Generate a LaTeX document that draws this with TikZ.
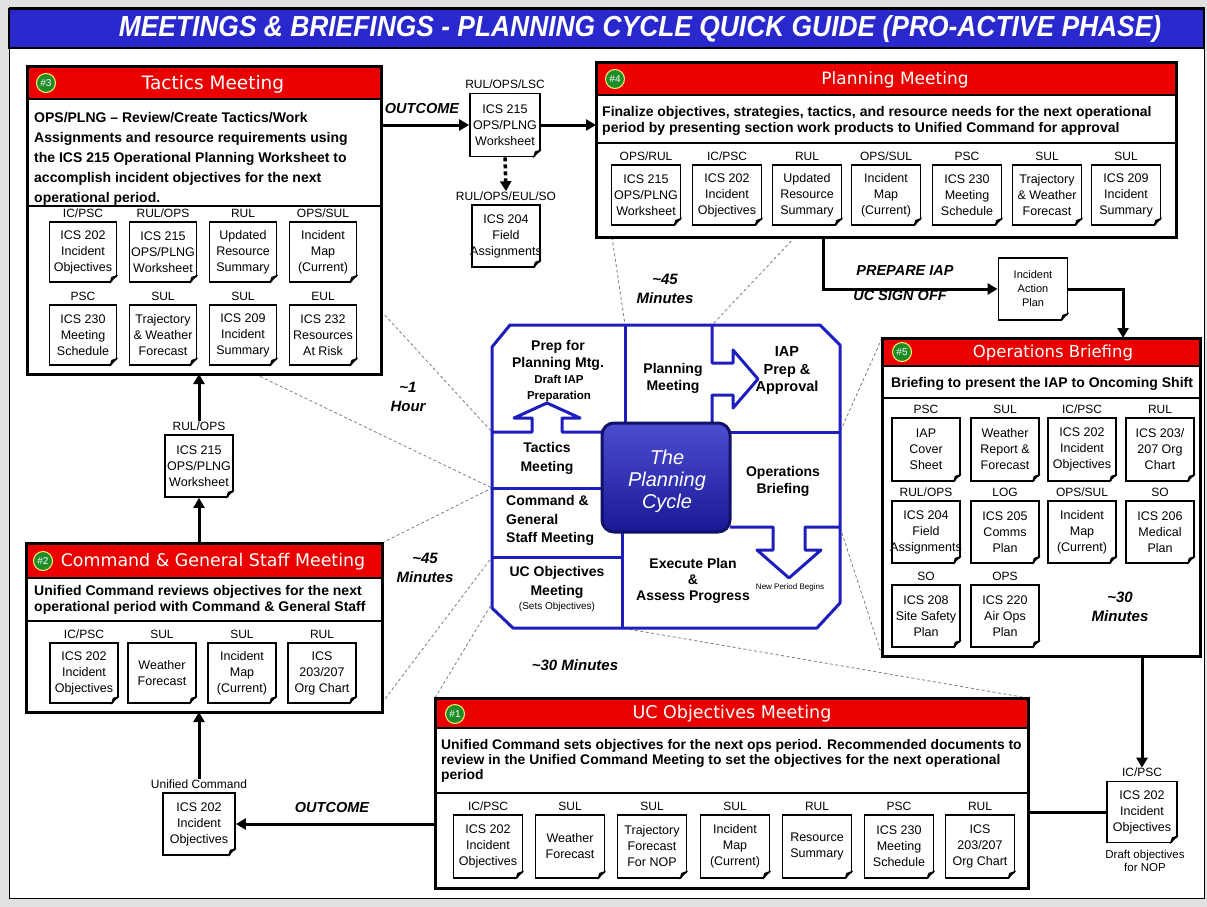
\documentclass[tikz,border=0pt]{standalone}
\usepackage{fontspec}
\usepackage{graphicx}
\setmainfont{Liberation Sans}
\newfontfamily\dvfont{DejaVu Sans}
\usetikzlibrary{arrows.meta}
\pgfdeclarelayer{back}
\pgfdeclarelayer{mid}
\pgfsetlayers{back,mid,main}
\definecolor{cyc}{RGB}{30,30,190}
\definecolor{hred}{RGB}{235,0,0}
\definecolor{tblue}{RGB}{40,40,205}
\definecolor{bgc}{RGB}{225,225,225}
\definecolor{fanc}{RGB}{125,125,125}
\definecolor{gbadge}{RGB}{30,140,40}
\definecolor{corefill}{RGB}{45,45,200}
\definecolor{coredark}{RGB}{25,25,150}
\tikzset{
 mbox/.style={rectangle, fill=white, inner sep=0, outer sep=0},
 docbox/.style={rectangle, draw, fill=white, line width=1.8pt, inner sep=0, align=center, font=\fontsize{12.5}{16}\selectfont},
 lbl/.style={anchor=base, inner sep=0, font=\fontsize{12}{14}\selectfont},
 desc/.style={anchor=west, align=left, inner sep=0, font=\bfseries\fontsize{14}{20}\selectfont},
 htitle/.style={text=white, inner sep=0, font=\dvfont\fontsize{17}{19}\selectfont},
 badge/.style={circle, fill=gbadge, draw=yellow!60!white, line width=1pt, inner sep=0, minimum size=19pt, text=white, font=\fontsize{10}{10}\selectfont},
 arr/.style={line width=3pt, -{Triangle[length=10pt,width=11pt]}},
 dotarr/.style={line width=3.5pt, dash pattern=on 4pt off 3pt, -{Triangle[length=10pt,width=11pt]}},
 fanline/.style={draw=fanc, line width=0.8pt, dash pattern=on 3pt off 2.5pt},
 notetext/.style={inner sep=0, align=center, font=\bfseries\itshape\fontsize{15}{19}\selectfont},
 flowtext/.style={inner sep=0, font=\bfseries\itshape\fontsize{14.5}{16}\selectfont},
 cyct/.style={inner sep=0, align=center, font=\bfseries\fontsize{14}{17}\selectfont},
 boxline/.style={line width=3pt},
 sepline/.style={line width=1.5pt},
}
\newcommand\mkfold[1]{%
 \fill[white] ([xshift=-8pt,yshift=-1.5pt]#1.south east) -- ([xshift=1.5pt,yshift=8pt]#1.south east) -- ([xshift=1.5pt,yshift=-1.5pt]#1.south east) -- cycle;
 \draw[line width=1.2pt] ([xshift=-8pt]#1.south east) -- ([yshift=8pt]#1.south east);
 \fill[black] ([xshift=-8pt]#1.south east) -- ([yshift=8pt]#1.south east) -- ([xshift=-6pt,yshift=6pt]#1.south east) -- cycle;
}
\newcommand\mkdoc[7]{%
 \node[docbox, minimum width=#4pt, minimum height=#5pt] (#1) at (#2,#3) {#7};
 \mkfold{#1}%
 \node[lbl] (#1-l) at ([yshift=4pt]#1.north) {#6};
}
\newcommand\ov[1]{\makebox[0pt]{#1}}
\begin{document}
\begin{tikzpicture}[x=1pt,y=-1pt]
\useasboundingbox (0,0) rectangle (1207,907);
\begin{pgfonlayer}{back}
\fill[bgc] (0,0) rectangle (1207,907);
\draw[fill=white,line width=1pt] (9,8) rectangle (1204,898);
\end{pgfonlayer}

% ---------- title ----------
\node[draw, line width=1.5pt, fill=tblue, minimum width=1195pt, minimum height=39pt, inner sep=0] (titlebar) at (606.5,28.5) {};
\node[text=white, inner sep=0, font=\bfseries\itshape\fontsize{29}{30}\selectfont] (title) at (640,29) {\scalebox{0.91}[1]{MEETINGS \& BRIEFINGS - PLANNING CYCLE QUICK GUIDE (PRO-ACTIVE PHASE)}};

% ---------- #3 Tactics ----------
\node[mbox, minimum width=354pt, minimum height=307pt] (tac) at (204,220.5) {};
\fill[hred] (27,67) rectangle (381,99);
\draw[line width=1.2pt] (27,99) -- (381,99);
\draw[sepline] (27,206) -- (381,206);
\draw[boxline] (tac.north west) rectangle (tac.south east);
\node[badge] (b3) at (46,83) {\#3};
\node[htitle, font=\dvfont\fontsize{18.5}{20}\selectfont] (h3) at (213,84) {Tactics Meeting};
\node[desc] (d3) at (34,158.5) {OPS/PLNG -- Review/Create Tactics/Work\\Assignments and resource requirements using\\the ICS 215 Operational Planning Worksheet to\\accomplish incident objectives for the next\\operational period.};
\mkdoc{ta1}{83}{252}{67}{60}{IC/PSC}{ICS 202\\Incident\\Objectives}
\mkdoc{ta2}{163}{252}{67}{60}{RUL/OPS}{ICS 215\\OPS/PLNG\\Worksheet}
\mkdoc{ta3}{243}{252}{67}{60}{RUL}{Updated\\Resource\\Summary}
\mkdoc{ta4}{323}{252}{67}{60}{OPS/SUL}{Incident\\Map\\(Current)}
\mkdoc{ta5}{83}{335}{67}{60}{PSC}{ICS 230\\Meeting\\Schedule}
\mkdoc{ta6}{163}{335}{67}{60}{SUL}{Trajectory\\\ov{\& Weather}\\Forecast}
\mkdoc{ta7}{243}{335}{67}{60}{SUL}{ICS 209\\Incident\\Summary}
\mkdoc{ta8}{323}{335}{67}{60}{EUL}{ICS 232\\\ov{Resources}\\At Risk}

% ---------- #4 Planning ----------
\node[mbox, minimum width=580pt, minimum height=174pt] (plan) at (886,150) {};
\fill[hred] (596,63) rectangle (1176,95);
\draw[line width=1.2pt] (596,95) -- (1176,95);
\draw[sepline] (596,143) -- (1176,143);
\draw[boxline] (plan.north west) rectangle (plan.south east);
\node[badge] (b4) at (615,79) {\#4};
\node[htitle] (h4) at (895,80) {Planning Meeting};
\node[desc, font=\bfseries\fontsize{14}{16.5}\selectfont] (d4) at (602,121) {Finalize objectives, strategies, tactics, and resource needs for the next operational\\period by presenting section work products to Unified Command for approval};
\mkdoc{pa1}{646}{195}{69}{60}{OPS/RUL}{ICS 215\\OPS/PLNG\\Worksheet}
\mkdoc{pa2}{727}{195}{69}{60}{IC/PSC}{ICS 202\\Incident\\Objectives}
\mkdoc{pa3}{807}{195}{69}{60}{RUL}{Updated\\Resource\\Summary}
\mkdoc{pa4}{886}{195}{69}{60}{OPS/SUL}{Incident\\Map\\(Current)}
\mkdoc{pa5}{967}{195}{69}{60}{PSC}{ICS 230\\Meeting\\Schedule}
\mkdoc{pa6}{1047}{195}{69}{60}{SUL}{Trajectory\\\ov{\& Weather}\\Forecast}
\mkdoc{pa7}{1126}{195}{69}{60}{SUL}{ICS 209\\Incident\\Summary}

% ---------- #2 Command & General Staff ----------
\node[mbox, minimum width=356pt, minimum height=169pt] (cmd) at (204,627.5) {};
\fill[hred] (26,543) rectangle (382,578);
\draw[line width=1.2pt] (26,578) -- (382,578);
\draw[sepline] (26,621) -- (382,621);
\draw[boxline] (cmd.north west) rectangle (cmd.south east);
\node[badge] (b2) at (43,561) {\#2};
\node[htitle, font=\dvfont\fontsize{17.4}{19}\selectfont] (h2) at (213,562) {Command \& General Staff Meeting};
\node[desc, font=\bfseries\fontsize{14}{16.5}\selectfont] (d2) at (34,600) {Unified Command reviews objectives for the next\\operational period with Command \& General Staff};
\mkdoc{ca1}{84}{673}{68}{60}{IC/PSC}{ICS 202\\Incident\\Objectives}
\mkdoc{ca2}{162}{673}{68}{60}{SUL}{Weather\\Forecast}
\mkdoc{ca3}{242}{673}{68}{60}{SUL}{Incident\\Map\\(Current)}
\mkdoc{ca4}{322}{673}{68}{60}{RUL}{ICS\\203/207\\Org Chart}

% ---------- #5 Operations Briefing ----------
\node[mbox, minimum width=318pt, minimum height=318pt] (ops) at (1041,497) {};
\fill[hred] (882,338) rectangle (1200,366);
\draw[line width=1.2pt] (882,366) -- (1200,366);
\draw[sepline] (882,398) -- (1200,398);
\draw[boxline] (ops.north west) rectangle (ops.south east);
\node[badge] (b5) at (902,352) {\#5};
\node[htitle, font=\dvfont\fontsize{16.5}{18}\selectfont] (h5) at (1053,353) {Operations Briefing};
\node[desc] (d5) at (891,384) {Briefing to present the IAP to Oncoming Shift};
\mkdoc{oa1}{926}{449.5}{68}{63}{PSC}{IAP\\Cover\\Sheet}
\mkdoc{oa2}{1005}{449.5}{68}{63}{SUL}{Weather\\Report \&\\Forecast}
\mkdoc{oa3}{1082}{449.5}{68}{63}{IC/PSC}{ICS 202\\Incident\\Objectives}
\mkdoc{oa4}{1160}{449.5}{68}{63}{RUL}{ICS 203/\\207 Org\\Chart}
\mkdoc{oa5}{926}{532}{68}{62}{RUL/OPS}{ICS 204\\Field\\\ov{Assignments}}
\mkdoc{oa6}{1005}{532}{68}{62}{LOG}{ICS 205\\Comms\\Plan}
\mkdoc{oa7}{1082}{532}{68}{62}{OPS/SUL}{Incident\\Map\\(Current)}
\mkdoc{oa8}{1160}{532}{68}{62}{SO}{ICS 206\\Medical\\Plan}
\mkdoc{oa9}{926}{616}{68}{62}{SO}{ICS 208\\\ov{Site Safety}\\Plan}
\mkdoc{oa10}{1005}{616}{68}{62}{OPS}{ICS 220\\Air Ops\\Plan}
\node[notetext] (n30b) at (1120,607) {\textasciitilde30\\Minutes};

% ---------- #1 UC Objectives ----------
\node[mbox, minimum width=593pt, minimum height=190pt] (uc) at (731.5,793) {};
\fill[hred] (435,698) rectangle (1028,728);
\draw[line width=1.2pt] (435,728) -- (1028,728);
\draw[sepline] (435,793) -- (1028,793);
\draw[boxline] (uc.north west) rectangle (uc.south east);
\node[badge] (b1) at (455,714) {\#1};
\node[htitle, font=\dvfont\fontsize{17.5}{19}\selectfont] (h1) at (732,714) {UC Objectives Meeting};
\node[desc, font=\bfseries\fontsize{13.9}{15}\selectfont] (d1) at (441,761) {Unified Command sets objectives for the next ops period. Recommended documents to\\review in the Unified Command Meeting to set the objectives for the next operational\\period};
\mkdoc{ua1}{488}{846.5}{69}{63}{IC/PSC}{ICS 202\\Incident\\Objectives}
\mkdoc{ua2}{570}{846.5}{69}{63}{SUL}{Weather\\Forecast}
\mkdoc{ua3}{652}{846.5}{69}{63}{SUL}{Trajectory\\Forecast\\For NOP}
\mkdoc{ua4}{735}{846.5}{69}{63}{SUL}{Incident\\Map\\(Current)}
\mkdoc{ua5}{817}{846.5}{69}{63}{RUL}{Resource\\Summary}
\mkdoc{ua6}{899}{846.5}{69}{63}{PSC}{ICS 230\\Meeting\\Schedule}
\mkdoc{ua7}{980}{846.5}{69}{63}{RUL}{ICS\\203/207\\Org Chart}

% ---------- free documents ----------
\mkdoc{fw215}{505}{125}{70}{63}{RUL/OPS/LSC}{ICS 215\\OPS/PLNG\\Worksheet}
\mkdoc{fw204}{506}{236}{68}{62}{RUL/OPS/EUL/SO}{ICS 204\\Field\\\ov{Assignments}}
\mkdoc{lw215}{199}{466}{68}{62}{RUL/OPS}{ICS 215\\OPS/PLNG\\Worksheet}
\mkdoc{ucd}{199}{824}{72}{62}{Unified Command}{ICS 202\\Incident\\Objectives}
\mkdoc{r202}{1142}{812}{70}{61}{IC/PSC}{ICS 202\\Incident\\Objectives}
\node[docbox, minimum width=69pt, minimum height=62pt, font=\fontsize{11}{14}\selectfont] (iap) at (1033,289) {Incident\\Action\\Plan};
\mkfold{iap}
\node[inner sep=0, align=center, font=\fontsize{11.5}{13}\selectfont] (draftnote) at (1145,861) {Draft objectives\\for NOP};

% ---------- flow arrows ----------
\draw[arr] (tac.east |- fw215.west) -- (fw215.west);
\node[flowtext] (out1) at (422,109) {OUTCOME};
\draw[arr] (fw215.east) -- (fw215.east -| plan.west);
\draw[dotarr] (fw215.south) -- (fw204-l.north);
\coordinate (pj) at ([xshift=-63pt]plan.south);
\draw[arr] (pj) |- (iap.west);
\node[flowtext] (prep) at (905,271) {PREPARE IAP};
\node[flowtext] (sign) at (900,296) {UC SIGN OFF};
\draw[arr] (iap.east) -| ([xshift=82pt]ops.north);
\draw[arr] ([xshift=101pt]ops.south) -- (r202-l.north);
\draw[line width=3pt] (r202.west) -- (r202.west -| uc.east);
\draw[arr] (uc.west |- ucd.east) -- (ucd.east);
\node[flowtext] (out2) at (332,807) {OUTCOME};
\draw[arr] (ucd-l.north) -- (ucd-l.north |- cmd.south);
\draw[arr] (cmd.north -| lw215.south) -- (lw215.south);
\draw[arr] (lw215-l.north) -- (lw215-l.north |- tac.south);

% ---------- planning cycle ----------
\begin{scope}[draw=cyc, line width=3pt, line join=round]
\draw (510,325) -- (820,325) -- (840,345) -- (840,603) -- (817,628) -- (513,628) -- (492,608) -- (492,347) -- cycle;
\draw (625,325) -- (625,423);
\draw (712,325) -- (712,363) -- (733,363) -- (733,350) -- (758,379) -- (733,408) -- (733,395) -- (712,395) -- (712,423);
\draw (730,432) -- (840,432);
\draw (492,432) -- (532,432) -- (532,418) -- (514,418) -- (547,403) -- (580,418) -- (562,418) -- (562,432) -- (602,432);
\draw (492,488) -- (602,488);
\draw (492,557) -- (622,557);
\draw (622,532) -- (622,628);
\draw (730,527) -- (773,527) -- (773,550) -- (757,550) -- (789,578) -- (821,550) -- (805,550) -- (805,527) -- (840,527);
\end{scope}
\node[draw=coredark!70!black, line width=3pt, top color=corefill!85!white, bottom color=coredark, rounded corners=12pt, minimum width=128pt, minimum height=109pt, inner sep=0] (core) at (666,477.5) {};
\node[text=white, inner sep=0, align=center, font=\itshape\fontsize{20}{22}\selectfont] (coretext) at (667,481) {The\\Planning\\Cycle};

\node[cyct] (cPrep) at (558,355.5) {Prep for\\Planning Mtg.};
\node[cyct, font=\bfseries\fontsize{11.5}{16}\selectfont] (cDraft) at (559,389) {Draft IAP\\Preparation};
\node[cyct] (cPlan) at (673,378.5) {Planning\\Meeting};
\node[cyct, font=\bfseries\fontsize{14.5}{17.5}\selectfont] (cIAP) at (787,371) {IAP\\Prep \&\\Approval};
\node[cyct, font=\bfseries\fontsize{14}{19}\selectfont] (cTac) at (547,458) {Tactics\\Meeting};
\node[cyct] (cOps) at (783,481.5) {Operations\\Briefing};
\node[cyct, align=left, anchor=west, font=\bfseries\fontsize{14}{18.5}\selectfont] (cCmd) at (506,520.5) {Command \&\\General\\Staff Meeting};
\node[cyct, font=\bfseries\fontsize{14}{19}\selectfont] (cUC) at (557,582.5) {UC Objectives\\Meeting};
\node[inner sep=0, font=\fontsize{10}{12}\selectfont] (cSets) at (557,607) {(Sets Objectives)};
\node[cyct, font=\bfseries\fontsize{14}{16}\selectfont] (cExe) at (693,581) {Execute Plan\\\&\\Assess Progress};
\node[inner sep=0, font=\fontsize{8}{9}\selectfont] (cNew) at (790,587) {New Period Begins};

% ---------- time notes ----------
\node[notetext] (n1h) at (408,397) {\textasciitilde1\\Hour};
\node[notetext] (n45a) at (425,568) {\textasciitilde45\\Minutes};
\node[notetext] (n45b) at (665,289) {\textasciitilde45\\Minutes};
\node[notetext] (n30a) at (575,665) {\textasciitilde30 Minutes};

% ---------- fan lines ----------
\coordinate (cyTacA) at (492,432);
\coordinate (cyTacB) at (492,488);
\coordinate (cyPlA) at (625,325);
\coordinate (cyPlB) at (712,325);
\coordinate (cyOpA) at (840,432);
\coordinate (cyOpB) at (840,527);
\coordinate (cyCmB) at (492,557);
\coordinate (cyUcA) at (494,600);
\coordinate (cyUcB) at (622,628);
\begin{pgfonlayer}{mid}
\draw[fanline] ([yshift=-90.5pt]tac.east) -- (cyTacA);
\draw[fanline] ([xshift=51pt]tac.south) -- (cyTacB);
\draw[fanline] ([xshift=-274pt]plan.south) -- (cyPlA);
\draw[fanline] ([xshift=-91pt]plan.south) -- (cyPlB);
\draw[fanline] (ops.north west) -- (cyOpA);
\draw[fanline] (ops.south west) -- (cyOpB);
\draw[fanline] (cmd.north east) -- (cyTacB);
\draw[fanline] ([yshift=9pt]cmd.south east) -- (cyCmB);
\draw[fanline] (uc.north west) -- (cyUcA);
\draw[fanline] (uc.north east) -- (cyUcB);
\end{pgfonlayer}
\end{tikzpicture}
\end{document}
